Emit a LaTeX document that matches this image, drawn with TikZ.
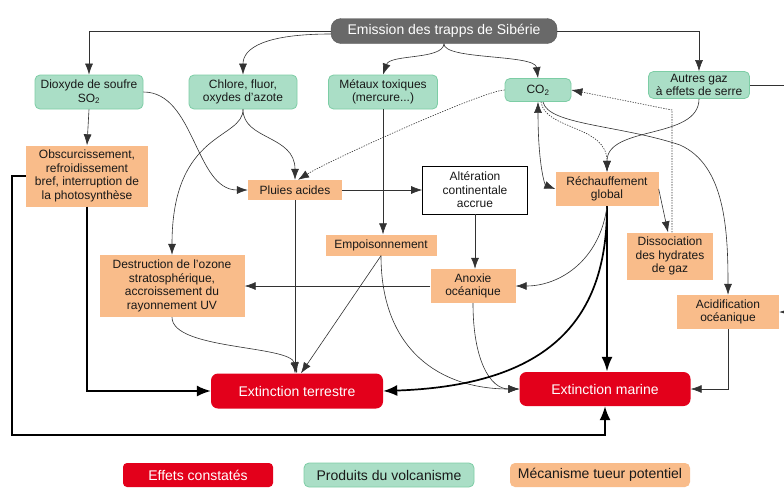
\documentclass[tikz,border=0pt]{standalone}
\usepackage{fontspec}
\setmainfont{Liberation Sans}
\usetikzlibrary{arrows.meta}
\definecolor{gfill}{RGB}{170,222,198}
\definecolor{gline}{RGB}{125,205,165}
\definecolor{ofill}{RGB}{249,188,138}
\definecolor{rfill}{RGB}{227,0,27}
\definecolor{efill}{RGB}{105,105,105}
\definecolor{lcol}{RGB}{50,50,50}
\begin{document}
\begin{tikzpicture}[x=1pt,y=-1pt,
 box/.style={align=center, inner sep=1pt, font=\fontsize{12}{13.5}\selectfont, text=black!90},
 gbox/.style={box, fill=gfill, draw=gline, line width=0.8pt, rounded corners=5pt},
 obox/.style={box, fill=ofill},
 rbox/.style={box, fill=rfill, text=white, rounded corners=7pt, font=\fontsize{14}{16}\selectfont},
 sz/.style 2 args={minimum width=#1pt, minimum height=#2pt},
 tip/.tip={Latex[length=11pt,width=8pt]},
 con/.style={draw=lcol, line width=0.6pt, -tip},
 dcon/.style={con, dash pattern=on 1.3pt off 1.3pt},
 tcon/.style={draw=black, line width=1.7pt, -{Latex[length=14pt,width=11pt]}},
 vcon/.style={draw=black, line width=2.4pt, -{Latex[length=15pt,width=11pt]}},
]
\fill[white] (0,0) rectangle (784,490);
\useasboundingbox (0,0) rectangle (784,490);

% nodes
\node[box, fill=efill, draw=efill!85!black, text=white, rounded corners=10pt, font=\fontsize{14}{16}\selectfont, sz={226}{25}] (emission) at (444,31) {Emission des trapps de Sibérie};
\node[gbox, sz={108}{34}] (dioxyde) at (89,92) {Dioxyde de soufre\\SO\textsubscript{2}};
\node[gbox, sz={108}{34}] (chlore) at (243,92) {Chlore, fluor,\\oxydes d’azote};
\node[gbox, sz={109}{34}] (metaux) at (383,92) {Métaux toxiques\\(mercure...)};
\node[gbox, sz={66}{23}] (co2) at (538,90) {CO\textsubscript{2}};
\node[gbox, sz={101}{27}, font=\fontsize{12}{13}\selectfont] (autres) at (699,85) {Autres gaz\\à effets de serre};
\node[obox, sz={122}{61}] (obscur) at (87,176) {Obscurcissement,\\refroidissement\\bref, interruption de\\la photosynthèse};
\node[obox, sz={94}{20}] (pluies) at (295,190) {Pluies acides};
\node[box, draw=black, fill=white, line width=0.7pt, sz={105}{48}] (alter) at (475,190) {Altération\\continentale\\accrue};
\node[obox, sz={103}{34}] (rech) at (607,189) {Réchauffement\\global};
\node[obox, sz={111}{21}] (empois) at (381,245) {Empoisonnement};
\node[obox, sz={145}{62}] (destr) at (172,286) {Destruction de l'ozone\\stratosphérique,\\accroissement du\\rayonnement UV};
\node[obox, sz={86}{47}] (dissoc) at (670,256) {Dissociation\\des hydrates\\de gaz};
\node[obox, sz={85}{34}] (anoxie) at (473,286) {Anoxie\\océanique};
\node[obox, sz={102}{34}] (acid) at (728,312) {Acidification\\océanique};
\node[rbox, sz={172}{35}] (extT) at (297,391) {Extinction terrestre};
\node[rbox, sz={171}{34}] (extM) at (605,389) {Extinction marine};

% legend
\node[rbox, sz={150}{24}, rounded corners=4pt] (l1) at (198,475) {Effets constatés};
\node[gbox, sz={170}{24}, font=\fontsize{14}{16}\selectfont] (l2) at (389,475) {Produits du volcanisme};
\node[obox, sz={180}{24}, rounded corners=5pt, font=\fontsize{14}{16}\selectfont] (l3) at (600,475) {Mécanisme tueur potentiel};

% connectors
\draw[con] (emission.west) -| (dioxyde.north);
\draw[con] ([yshift=-3pt]emission.west) .. controls (265,34) and (243,48) .. (chlore.north);
\draw[con] (emission.south) .. controls (443,60) and (390,54) .. (metaux.north);
\draw[con] (emission.south) .. controls (443,60) and (535,54) .. (co2.north);
\draw[con] (emission.east) -| (autres.north);
\coordinate (offr) at (800,85);
\draw[con] (autres.east) -- (offr) |- (acid.east);
\draw[con] (dioxyde.south) -- (obscur.north);
\draw[con] (dioxyde.east) .. controls (195,92) and (195,190) .. (pluies.west);
\draw[con] (chlore.south) .. controls (243,140) and (295,135) .. (pluies.north);
\draw[con] (chlore.south) .. controls (243,140) and (172,130) .. (destr.north);
\draw[dcon] (co2.west) .. controls (485,90) and (330,160) .. ([xshift=3pt]pluies.north);
\draw[con] (pluies.east) -- (alter.west);
\draw[con] (pluies.south) -- (pluies.south |- extT.north);
\draw[con] (metaux.south) -- (metaux.south |- empois.north);
\draw[con] (empois.south) -- ([xshift=4pt]extT.north);
\draw[con] (empois.south) .. controls (381,350) and (440,389) .. (extM.west);
\draw[con] (anoxie.south) .. controls (473,360) and (490,389) .. (extM.west);
\draw[con] (destr.south) .. controls (172,350) and (290,345) .. (extT.north);
\draw[con] (alter.south) -- (alter.south |- anoxie.north);
\draw[con] (anoxie.west) -- (destr.east);
\draw[con] (acid.south) |- (extM.east);
\draw[tcon] (obscur.south) |- (extT.west);
\coordinate (lb) at (12,435);
\draw[tcon] (obscur.west) -| (lb) -| (extM.south);
\draw[vcon] (rech.south) -- (rech.south |- extM.north);
\draw[tcon] (rech.south) .. controls (607,310) and (560,385) .. (extT.east);
\draw[con] (rech.south) .. controls (600,260) and (560,286) .. (anoxie.east);
\draw[con] (rech.east) -- ([xshift=-2pt]dissoc.north);
\coordinate (dc) at (672,110);
\draw[dcon] ([xshift=2pt]dissoc.north) -- (dc) -- (co2.east);
\draw[con, tip-tip] (co2.south) .. controls (538,165) and (545,185) .. (rech.west);
\draw[dcon] ([xshift=3pt]co2.south) .. controls (545,130) and (607,125) .. (rech.north);
\draw[con] (autres.south) .. controls (699,140) and (607,125) .. (rech.north);
\draw[con] ([xshift=5pt]co2.south) .. controls (548,125) and (620,125) .. (680,145) .. controls (725,165) and (728,230) .. (acid.north);
\end{tikzpicture}
\end{document}
